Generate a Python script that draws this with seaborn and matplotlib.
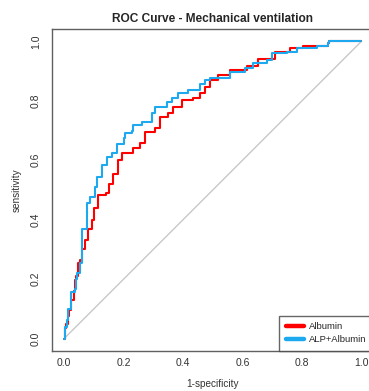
import matplotlib
matplotlib.use("Agg")
import matplotlib.pyplot as plt
import seaborn as sns

# ROC points (1-specificity, sensitivity)
albumin_fpr = [0, 0.003, 0.006, 0.012, 0.018, 0.025, 0.032, 0.037, 0.042, 0.048,
               0.054, 0.062, 0.07, 0.08, 0.093, 0.1, 0.115, 0.141, 0.15, 0.165,
               0.183, 0.194, 0.233, 0.255, 0.272, 0.306, 0.323, 0.35, 0.367, 0.396,
               0.435, 0.457, 0.474, 0.491, 0.519, 0.558, 0.614, 0.653, 0.709, 0.76,
               0.804, 0.888, 0.89, 1.0]
albumin_tpr = [0, 0.036, 0.05, 0.075, 0.097, 0.13, 0.16, 0.197, 0.21, 0.255,
               0.265, 0.3, 0.332, 0.37, 0.4, 0.44, 0.483, 0.489, 0.52, 0.555,
               0.6, 0.623, 0.64, 0.657, 0.696, 0.708, 0.746, 0.758, 0.78, 0.803,
               0.808, 0.825, 0.847, 0.87, 0.887, 0.904, 0.917, 0.939, 0.965, 0.976,
               0.985, 0.993, 1.0, 1.0]

combo_fpr = [0, 0.003, 0.009, 0.015, 0.022, 0.037, 0.042, 0.045, 0.054, 0.06,
             0.076, 0.087, 0.104, 0.11, 0.127, 0.143, 0.16, 0.177, 0.2, 0.205,
             0.227, 0.233, 0.261, 0.295, 0.306, 0.345, 0.362, 0.384, 0.418, 0.457,
             0.474, 0.491, 0.524, 0.558, 0.608, 0.636, 0.681, 0.698, 0.749, 0.782,
             0.849, 0.888, 0.89, 1.0]
combo_tpr = [0, 0.04, 0.063, 0.1, 0.158, 0.166, 0.2, 0.22, 0.253, 0.37,
             0.455, 0.477, 0.511, 0.545, 0.584, 0.612, 0.623, 0.655, 0.674, 0.69,
             0.7, 0.718, 0.73, 0.758, 0.78, 0.797, 0.808, 0.825, 0.836, 0.855,
             0.87, 0.876, 0.878, 0.898, 0.909, 0.926, 0.937, 0.96, 0.965, 0.976,
             0.985, 0.993, 1.0, 1.0]

diag = [0, 1]
ticks = [0.0, 0.2, 0.4, 0.6, 0.8, 1.0]
tick_labels = ["0.0", "0.2", "0.4", "0.6", "0.8", "1.0"]

sns.set_style("white")
plt.rcParams["font.family"] = ["Liberation Sans", "DejaVu Sans"]

fig = plt.figure(figsize=(3.69, 3.91), dpi=100)
ax = fig.add_axes([0.1412, 0.1033, 0.8707, 0.8215])

ax.plot(diag, diag, color="#c8c8c8", lw=1.0, zorder=1)

sns.lineplot(x=albumin_fpr, y=albumin_tpr, ax=ax, color="#ff0000", lw=1.5,
             drawstyle="steps-post", estimator=None, sort=False, label="Albumin")
sns.lineplot(x=combo_fpr, y=combo_tpr, ax=ax, color="#1ca9ef", lw=1.5,
             drawstyle="steps-post", estimator=None, sort=False, label="ALP+Albumin")

ax.set_xlim(-0.04, 1.04)
ax.set_ylim(-0.04, 1.04)
ax.set_xticks(ticks)
ax.set_xticklabels(tick_labels)
ax.set_yticks(ticks)
ax.set_yticklabels(tick_labels, rotation=90, va="center")

for s in ax.spines.values():
    s.set_color("#606060")
    s.set_linewidth(1.0)

ax.tick_params(axis="both", direction="out", length=4, width=1.0, color="#606060",
               labelsize=7.5, labelcolor="#333333")
ax.tick_params(axis="x", pad=1.5)
ax.tick_params(axis="y", pad=4)

ax.set_title("ROC Curve - Mechanical ventilation", fontsize=8.6, fontweight="bold",
             pad=5)
ax.set_xlabel("1-specificity", fontsize=7.2, color="#333333", labelpad=8)
ax.set_ylabel("sensitivity", fontsize=7.2, color="#333333", labelpad=7)

leg = ax.legend(loc="lower right", borderaxespad=0, fontsize=6.8, fancybox=False,
                frameon=True, handlelength=1.9, handletextpad=0.6,
                labelspacing=0.4, borderpad=0.7)
leg.get_frame().set_edgecolor("#404040")
leg.get_frame().set_linewidth(1.0)
for line in leg.get_lines():
    line.set_linewidth(3.2)

fig.savefig("out.png", dpi=100)
